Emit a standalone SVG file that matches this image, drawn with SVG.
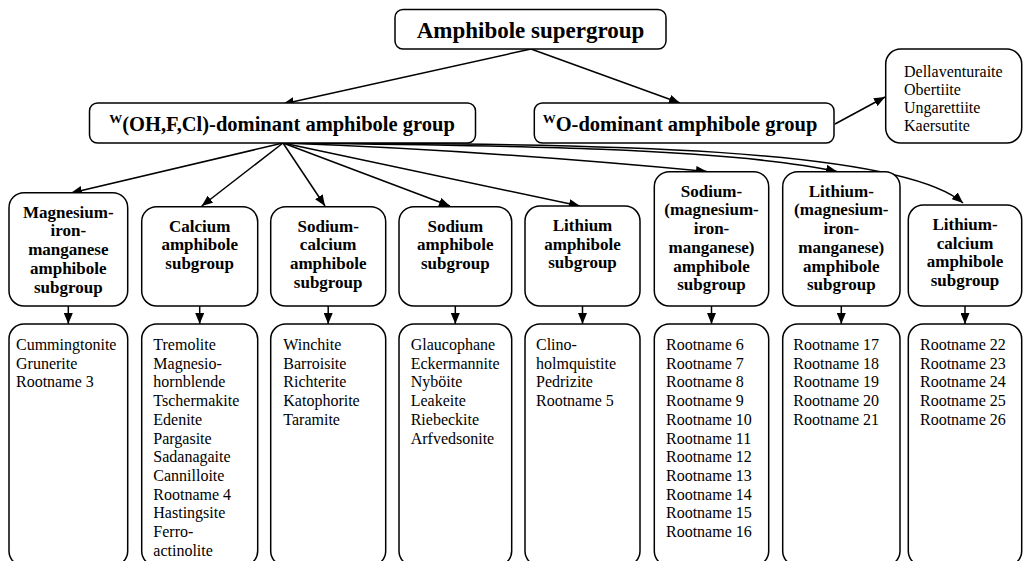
<svg xmlns="http://www.w3.org/2000/svg" width="1033" height="561" viewBox="0 0 1033 561">
<style>
.box{fill:#fff;stroke:#000;stroke-width:1.5}
.t{font-family:"Liberation Serif","Times New Roman",serif;fill:#000}
.title{font-size:23px;font-weight:bold;text-anchor:middle}
.grp{font-size:20.5px;font-weight:bold;text-anchor:middle}
.sub{font-size:17px;font-weight:bold;text-anchor:middle}
.lst{font-size:16px}
.con{fill:none;stroke:#000;stroke-width:1.5;marker-end:url(#ah)}
</style>
<defs>
<marker id="ah" markerUnits="userSpaceOnUse" markerWidth="12" markerHeight="9" refX="11" refY="4.5" orient="auto">
<path d="M0,0 L11,4.5 L0,9 z" fill="#000"/>
</marker>
</defs>
<rect width="1033" height="561" fill="#fff"/>
<g id="connectors">
<path class="con" d="M531,49 L283,104"/>
<path class="con" d="M531,49 L680,103"/>
<path class="con" d="M835,124 L885,97"/>
<path class="con" d="M283,143 L71,193"/>
<path class="con" d="M283,143 L201.7,206"/>
<path class="con" d="M283,143 L325,206"/>
<path class="con" d="M283,143 L450,206"/>
<path class="con" d="M283,143 L580,206"/>
<path class="con" d="M283,143 Q480,150 707,171.5"/>
<path class="con" d="M283,143 C450,145 720,146 837,171.5"/>
<path class="con" d="M283,143 C600,143 900,148 963,203"/>
<path class="con" d="M68.3,306 L68.3,324"/>
<path class="con" d="M199.7,306 L199.7,324"/>
<path class="con" d="M328.2,306 L328.2,324"/>
<path class="con" d="M455.3,306 L455.3,324"/>
<path class="con" d="M582.5,306 L582.5,324"/>
<path class="con" d="M711.5,306 L711.5,324"/>
<path class="con" d="M841.3,306 L841.3,324"/>
<path class="con" d="M965,306 L965,324"/>
</g>
<g id="supergroup">
<rect class="box" x="395" y="9.5" width="271" height="39.5" rx="8"/>
<text class="t title" x="530.5" y="38">Amphibole supergroup</text>
</g>
<g id="oh-group">
<rect class="box" x="89.5" y="103" width="386" height="40" rx="8"/>
<text class="t grp" x="282" y="130.5"><tspan font-size="13" dy="-8">W</tspan><tspan dy="8">(OH,F,Cl)-dominant amphibole group</tspan></text>
</g>
<g id="o-group">
<rect class="box" x="534.3" y="103" width="299.7" height="40" rx="8"/>
<text class="t grp" x="680" y="130.5"><tspan font-size="13" dy="-8">W</tspan><tspan dy="8">O-dominant amphibole group</tspan></text>
</g>
<g id="o-list">
<rect class="box" x="885.7" y="49" width="136" height="94" rx="15"/>
<text class="t lst" x="904" y="77"><tspan x="904">Dellaventuraite</tspan><tspan x="904" dy="18">Obertiite</tspan><tspan x="904" dy="18">Ungarettiite</tspan><tspan x="904" dy="18">Kaersutite</tspan></text>
</g>
<g id="sub1">
<rect class="box" x="9" y="192.7" width="118.7" height="113.3" rx="15"/>
<text class="t sub" y="217.7"><tspan x="68.3">Magnesium-</tspan><tspan x="68.3" dy="18.7">iron-</tspan><tspan x="68.3" dy="18.7">manganese</tspan><tspan x="68.3" dy="18.7">amphibole</tspan><tspan x="68.3" dy="18.7">subgroup</tspan></text>
</g>
<g id="sub2">
<rect class="box" x="141.7" y="206.7" width="116" height="99.3" rx="15"/>
<text class="t sub" y="231.7"><tspan x="199.7">Calcium</tspan><tspan x="199.7" dy="18.7">amphibole</tspan><tspan x="199.7" dy="18.7">subgroup</tspan></text>
</g>
<g id="sub3">
<rect class="box" x="270.7" y="206.7" width="115" height="99.3" rx="15"/>
<text class="t sub" y="231.7"><tspan x="328.2">Sodium-</tspan><tspan x="328.2" dy="18.7">calcium</tspan><tspan x="328.2" dy="18.7">amphibole</tspan><tspan x="328.2" dy="18.7">subgroup</tspan></text>
</g>
<g id="sub4">
<rect class="box" x="399" y="206.7" width="112.7" height="99.3" rx="15"/>
<text class="t sub" y="231.7"><tspan x="455.3">Sodium</tspan><tspan x="455.3" dy="18.7">amphibole</tspan><tspan x="455.3" dy="18.7">subgroup</tspan></text>
</g>
<g id="sub5">
<rect class="box" x="525" y="206" width="115" height="100" rx="15"/>
<text class="t sub" y="231"><tspan x="582.5">Lithium</tspan><tspan x="582.5" dy="18.7">amphibole</tspan><tspan x="582.5" dy="18.7">subgroup</tspan></text>
</g>
<g id="sub6">
<rect class="box" x="654.3" y="171.7" width="114.4" height="134.3" rx="15"/>
<text class="t sub" y="196.7"><tspan x="711.5">Sodium-</tspan><tspan x="711.5" dy="18.7">(magnesium-</tspan><tspan x="711.5" dy="18.7">iron-</tspan><tspan x="711.5" dy="18.7">manganese)</tspan><tspan x="711.5" dy="18.7">amphibole</tspan><tspan x="711.5" dy="18.7">subgroup</tspan></text>
</g>
<g id="sub7">
<rect class="box" x="782.7" y="171.7" width="117.3" height="134.3" rx="15"/>
<text class="t sub" y="196.7"><tspan x="841.3">Lithium-</tspan><tspan x="841.3" dy="18.7">(magnesium-</tspan><tspan x="841.3" dy="18.7">iron-</tspan><tspan x="841.3" dy="18.7">manganese)</tspan><tspan x="841.3" dy="18.7">amphibole</tspan><tspan x="841.3" dy="18.7">subgroup</tspan></text>
</g>
<g id="sub8">
<rect class="box" x="908.3" y="205" width="113.4" height="101" rx="15"/>
<text class="t sub" y="230"><tspan x="965">Lithium-</tspan><tspan x="965" dy="18.7">calcium</tspan><tspan x="965" dy="18.7">amphibole</tspan><tspan x="965" dy="18.7">subgroup</tspan></text>
</g>
<g id="list1">
<rect class="box" x="9" y="324" width="118.7" height="242" rx="15"/>
<text class="t lst" y="350"><tspan x="16">Cummingtonite</tspan><tspan x="16" dy="18.7">Grunerite</tspan><tspan x="16" dy="18.7">Rootname 3</tspan></text>
</g>
<g id="list2">
<rect class="box" x="141.7" y="324" width="116" height="242" rx="15"/>
<text class="t lst" y="350"><tspan x="153.3">Tremolite</tspan><tspan x="153.3" dy="18.7">Magnesio-</tspan><tspan x="153.3" dy="18.7">hornblende</tspan><tspan x="153.3" dy="18.7">Tschermakite</tspan><tspan x="153.3" dy="18.7">Edenite</tspan><tspan x="153.3" dy="18.7">Pargasite</tspan><tspan x="153.3" dy="18.7">Sadanagaite</tspan><tspan x="153.3" dy="18.7">Cannilloite</tspan><tspan x="153.3" dy="18.7">Rootname 4</tspan><tspan x="153.3" dy="18.7">Hastingsite</tspan><tspan x="153.3" dy="18.7">Ferro-</tspan><tspan x="153.3" dy="18.7">actinolite</tspan></text>
</g>
<g id="list3">
<rect class="box" x="270.7" y="324" width="115" height="242" rx="15"/>
<text class="t lst" y="350"><tspan x="283.3">Winchite</tspan><tspan x="283.3" dy="18.7">Barroisite</tspan><tspan x="283.3" dy="18.7">Richterite</tspan><tspan x="283.3" dy="18.7">Katophorite</tspan><tspan x="283.3" dy="18.7">Taramite</tspan></text>
</g>
<g id="list4">
<rect class="box" x="399" y="324" width="112.7" height="242" rx="15"/>
<text class="t lst" y="350"><tspan x="410.7">Glaucophane</tspan><tspan x="410.7" dy="18.7">Eckermannite</tspan><tspan x="410.7" dy="18.7">Nyböite</tspan><tspan x="410.7" dy="18.7">Leakeite</tspan><tspan x="410.7" dy="18.7">Riebeckite</tspan><tspan x="410.7" dy="18.7">Arfvedsonite</tspan></text>
</g>
<g id="list5">
<rect class="box" x="525" y="324" width="115" height="242" rx="15"/>
<text class="t lst" y="350"><tspan x="536">Clino-</tspan><tspan x="536" dy="18.7">holmquistite</tspan><tspan x="536" dy="18.7">Pedrizite</tspan><tspan x="536" dy="18.7">Rootname 5</tspan></text>
</g>
<g id="list6">
<rect class="box" x="654.3" y="324" width="114.4" height="242" rx="15"/>
<text class="t lst" y="350"><tspan x="666">Rootname 6</tspan><tspan x="666" dy="18.7">Rootname 7</tspan><tspan x="666" dy="18.7">Rootname 8</tspan><tspan x="666" dy="18.7">Rootname 9</tspan><tspan x="666" dy="18.7">Rootname 10</tspan><tspan x="666" dy="18.7">Rootname 11</tspan><tspan x="666" dy="18.7">Rootname 12</tspan><tspan x="666" dy="18.7">Rootname 13</tspan><tspan x="666" dy="18.7">Rootname 14</tspan><tspan x="666" dy="18.7">Rootname 15</tspan><tspan x="666" dy="18.7">Rootname 16</tspan></text>
</g>
<g id="list7">
<rect class="box" x="782.7" y="324" width="117.3" height="242" rx="15"/>
<text class="t lst" y="350"><tspan x="793.3">Rootname 17</tspan><tspan x="793.3" dy="18.7">Rootname 18</tspan><tspan x="793.3" dy="18.7">Rootname 19</tspan><tspan x="793.3" dy="18.7">Rootname 20</tspan><tspan x="793.3" dy="18.7">Rootname 21</tspan></text>
</g>
<g id="list8">
<rect class="box" x="908.3" y="324" width="113.4" height="242" rx="15"/>
<text class="t lst" y="350"><tspan x="920">Rootname 22</tspan><tspan x="920" dy="18.7">Rootname 23</tspan><tspan x="920" dy="18.7">Rootname 24</tspan><tspan x="920" dy="18.7">Rootname 25</tspan><tspan x="920" dy="18.7">Rootname 26</tspan></text>
</g>
</svg>
